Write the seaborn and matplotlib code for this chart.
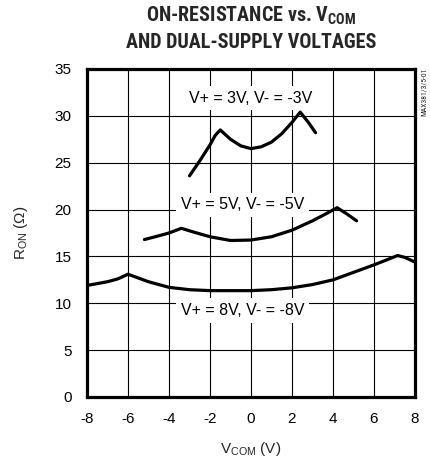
import matplotlib
matplotlib.use("Agg")
import matplotlib.pyplot as plt
import seaborn as sns
import pandas as pd
from matplotlib import font_manager as fm

# ---- data ----
x_3v = [-3.0, -2.5, -2.0, -1.75, -1.5, -1.25, -1.0, -0.5, 0.0, 0.5, 1.0, 1.5, 2.0, 2.4, 2.8, 3.15]
r_3v = [23.6, 25.2, 26.9, 27.9, 28.5, 28.0, 27.5, 26.8, 26.5, 26.7, 27.2, 28.1, 29.3, 30.4, 29.3, 28.2]

x_5v = [-5.2, -4.5, -4.0, -3.4, -2.8, -2.0, -1.0, 0.0, 1.0, 2.0, 3.0, 3.7, 4.2, 4.7, 5.15]
r_5v = [16.8, 17.2, 17.5, 18.0, 17.6, 17.1, 16.7, 16.75, 17.1, 17.8, 18.8, 19.6, 20.2, 19.5, 18.8]

x_8v = [-8.0, -7.0, -6.5, -6.0, -5.0, -4.0, -3.0, -2.0, 0.0, 1.0, 2.0, 3.0, 4.0, 5.0, 6.0, 6.7, 7.15, 7.5, 8.0]
r_8v = [11.9, 12.3, 12.6, 13.1, 12.3, 11.7, 11.45, 11.35, 11.35, 11.45, 11.65, 12.0, 12.5, 13.3, 14.1, 14.7, 15.1, 14.9, 14.4]

curve_labels = ["V+ = 3V, V- = -3V", "V+ = 5V, V- = -5V", "V+ = 8V, V- = -8V"]
label_x = [0.0, -0.4, -0.4]
label_y = [31.9, 20.5, 9.2]

x_ticks = [-8, -6, -4, -2, 0, 2, 4, 6, 8]
x_ticklabels = ["-8", "-6", "-4", "-2", "0", "2", "4", "6", "8"]
y_ticks = [0, 5, 10, 15, 20, 25, 30, 35]
y_ticklabels = ["0", "5", "10", "15", "20", "25", "30", "35"]

# ---- fonts ----
sns.set_style("white")
fonts = fm.fontManager.ttflist
avail = {f.name for f in fonts}
regular = "Liberation Sans" if "Liberation Sans" in avail else "DejaVu Sans"
narrow = regular
for cand in ["Liberation Sans Narrow", "Roboto Condensed", "PT Sans Narrow", "Archivo Narrow",
             "Fira Sans Condensed", "IBM Plex Sans Condensed", "Asap Condensed"]:
    if any(f.name == cand and (f.weight in ("bold", 700) or str(f.weight) == "700") for f in fonts):
        narrow = cand
        break
plt.rcParams["font.family"] = [regular, "DejaVu Sans"]
plt.rcParams["mathtext.fontset"] = "custom"
plt.rcParams["mathtext.rm"] = regular

fig = plt.figure(figsize=(4.30, 4.59), dpi=100)
ax = fig.add_axes([87 / 430, 62 / 459, 328 / 430, 328 / 459])

df = pd.concat([
    pd.DataFrame({"v": x_3v, "r": r_3v, "s": curve_labels[0]}),
    pd.DataFrame({"v": x_5v, "r": r_5v, "s": curve_labels[1]}),
    pd.DataFrame({"v": x_8v, "r": r_8v, "s": curve_labels[2]}),
])
sns.lineplot(data=df, x="v", y="r", hue="s", palette=["black"] * 3, sort=False,
             estimator=None, linewidth=2.3, legend=False, ax=ax, zorder=3)

ax.set_xlim(-8, 8)
ax.set_ylim(0, 35)
ax.set_xticks(x_ticks)
ax.set_xticklabels(x_ticklabels)
ax.set_yticks(y_ticks)
ax.set_yticklabels(y_ticklabels)
ax.tick_params(axis="both", length=0, labelsize=11, pad=11, colors="black")
ax.grid(True, color="black", linewidth=0.8, zorder=1)
ax.set_axisbelow(True)
for sp in ax.spines.values():
    sp.set_visible(True)
    sp.set_color("black")
    sp.set_linewidth(2.3)
    sp.set_zorder(5)

for t, lx, ly in zip(curve_labels, label_x, label_y):
    ax.text(lx, ly, t, ha="center", va="center", fontsize=11.5, color="black", zorder=4,
            bbox=dict(boxstyle="square,pad=0.3", facecolor="white", edgecolor="none"))

ax.set_xlabel(r"$\mathregular{V_{COM}}$ (V)", fontsize=11, labelpad=10)
ax.set_ylabel(r"$\mathregular{R_{ON}}$ ($\mathregular{\Omega}$)", fontsize=11, labelpad=18)

title_font = [narrow, regular, "DejaVu Sans"]
fig.text(251 / 430, 1 - 22 / 459, r"ON-RESISTANCE vs. $\mathregular{V_{COM}}$", ha="center",
         va="baseline", fontsize=14.5, fontweight="bold", family=title_font)
fig.text(251 / 430, 1 - 48 / 459, "AND DUAL-SUPPLY VOLTAGES", ha="center",
         va="baseline", fontsize=14.5, fontweight="bold", family=title_font)

fig.text(424 / 430, 1 - 68 / 459, "MAX381/3/5-01", rotation=90, ha="center", va="top",
         fontsize=5.5, family=title_font)

fig.savefig("out.png", dpi=100)
